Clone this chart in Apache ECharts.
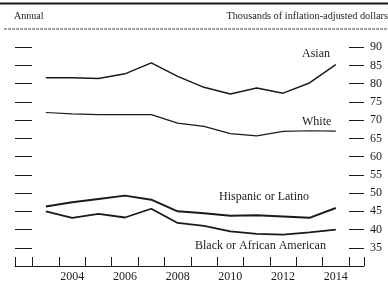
<!DOCTYPE html>
<html>
<head>
<meta charset="utf-8">
<script src="https://cdn.jsdelivr.net/npm/echarts@6/dist/echarts.min.js"></script>
<style>
  html, body { margin: 0; padding: 0; background: #fff; }
  #chart { width: 388px; height: 286px; }
</style>
</head>
<body>
<div id="chart"></div>
<script>
// years and median household income (thousands of inflation-adjusted dollars)
var years = [2003, 2004, 2005, 2006, 2007, 2008, 2009, 2010, 2011, 2012, 2013, 2014];
var asian = [81.6, 81.6, 81.4, 82.7, 85.7, 82.0, 79.0, 77.2, 78.8, 77.4, 80.2, 85.2];
var white = [72.1, 71.7, 71.5, 71.5, 71.5, 69.2, 68.3, 66.3, 65.7, 66.9, 67.1, 67.0];
var hispanic = [46.3, 47.5, 48.4, 49.3, 48.2, 45.0, 44.5, 43.8, 43.9, 43.6, 43.2, 45.9];
var black = [45.0, 43.2, 44.3, 43.3, 45.7, 41.8, 41.0, 39.5, 38.8, 38.6, 39.2, 40.0];
var yTicks = [35, 40, 45, 50, 55, 60, 65, 70, 75, 80, 85, 90];
var xLabels = [2004, 2006, 2008, 2010, 2012, 2014];

var font = 'Liberation Serif';
var ink = '#1a1a1a';

function pairs(vals) {
  return years.map(function (y, i) { return [y, vals[i]]; });
}
// year boundaries plus both axis ends
var xTicks = [2001.83];
years.forEach(function (y) { xTicks.push(y - 0.5); });
xTicks.push(2014.5, 2015.07);

function line(name, vals, w) {
  return {
    name: name, type: 'line', data: pairs(vals), symbol: 'none',
    lineStyle: { color: ink, width: w }, silent: true
  };
}

var chart = echarts.init(document.getElementById('chart'), null, { renderer: 'canvas' });
chart.setOption({
  animation: false,
  backgroundColor: '#fff',
  grid: { left: 15, right: 24, top: 29, bottom: 20 },
  xAxis: {
    type: 'value', min: 2001.83, max: 2015.07,
    splitLine: { show: false },
    axisLine: { lineStyle: { color: ink, width: 1 } },
    axisTick: { inside: true, length: 9, customValues: xTicks, lineStyle: { color: ink } },
    axisLabel: {
      customValues: xLabels, margin: 5, color: ink, fontFamily: font, fontSize: 12,
      formatter: function (v) { return String(v); }
    }
  },
  yAxis: [{
    type: 'value', min: 30, max: 95, position: 'left',
    splitLine: { show: false },
    axisLine: { show: false },
    axisTick: { inside: true, length: 17, customValues: yTicks, lineStyle: { color: ink } },
    axisLabel: { show: false }
  }, {
    type: 'value', min: 30, max: 95, position: 'right',
    splitLine: { show: false },
    axisLine: { show: false },
    axisTick: { inside: true, length: 15, customValues: yTicks, lineStyle: { color: ink } },
    axisLabel: { customValues: yTicks, margin: 6, color: ink, fontFamily: font, fontSize: 12 }
  }],
  series: [
    line('Asian', asian, 1.5),
    line('White', white, 1.2),
    line('Hispanic or Latino', hispanic, 2),
    line('Black or African American', black, 1.8)
  ],
  graphic: [
    { type: 'line', shape: { x1: 0, y1: 3.5, x2: 388, y2: 3.5 }, style: { stroke: ink, lineWidth: 2 } },
    { type: 'line', shape: { x1: 4, y1: 29, x2: 388, y2: 29 }, style: { stroke: '#444', lineWidth: 1, lineDash: [3, 1] } },
    { type: 'text', left: 14, top: 11, style: { text: 'Annual', font: '10px ' + font, fill: ink } },
    { type: 'text', right: 0, top: 11, style: { text: 'Thousands of inflation-adjusted dollars', font: '10.3px ' + font, fill: ink } },
    { type: 'text', left: 302, top: 48, style: { text: 'Asian', font: '12px ' + font, fill: ink } },
    { type: 'text', left: 302, top: 116, style: { text: 'White', font: '12px ' + font, fill: ink } },
    { type: 'text', left: 219, top: 191, style: { text: 'Hispanic or Latino', font: '12px ' + font, fill: ink } },
    { type: 'text', left: 195, top: 240, style: { text: 'Black or African American', font: '12px ' + font, fill: ink } }
  ]
});
</script>
</body>
</html>
